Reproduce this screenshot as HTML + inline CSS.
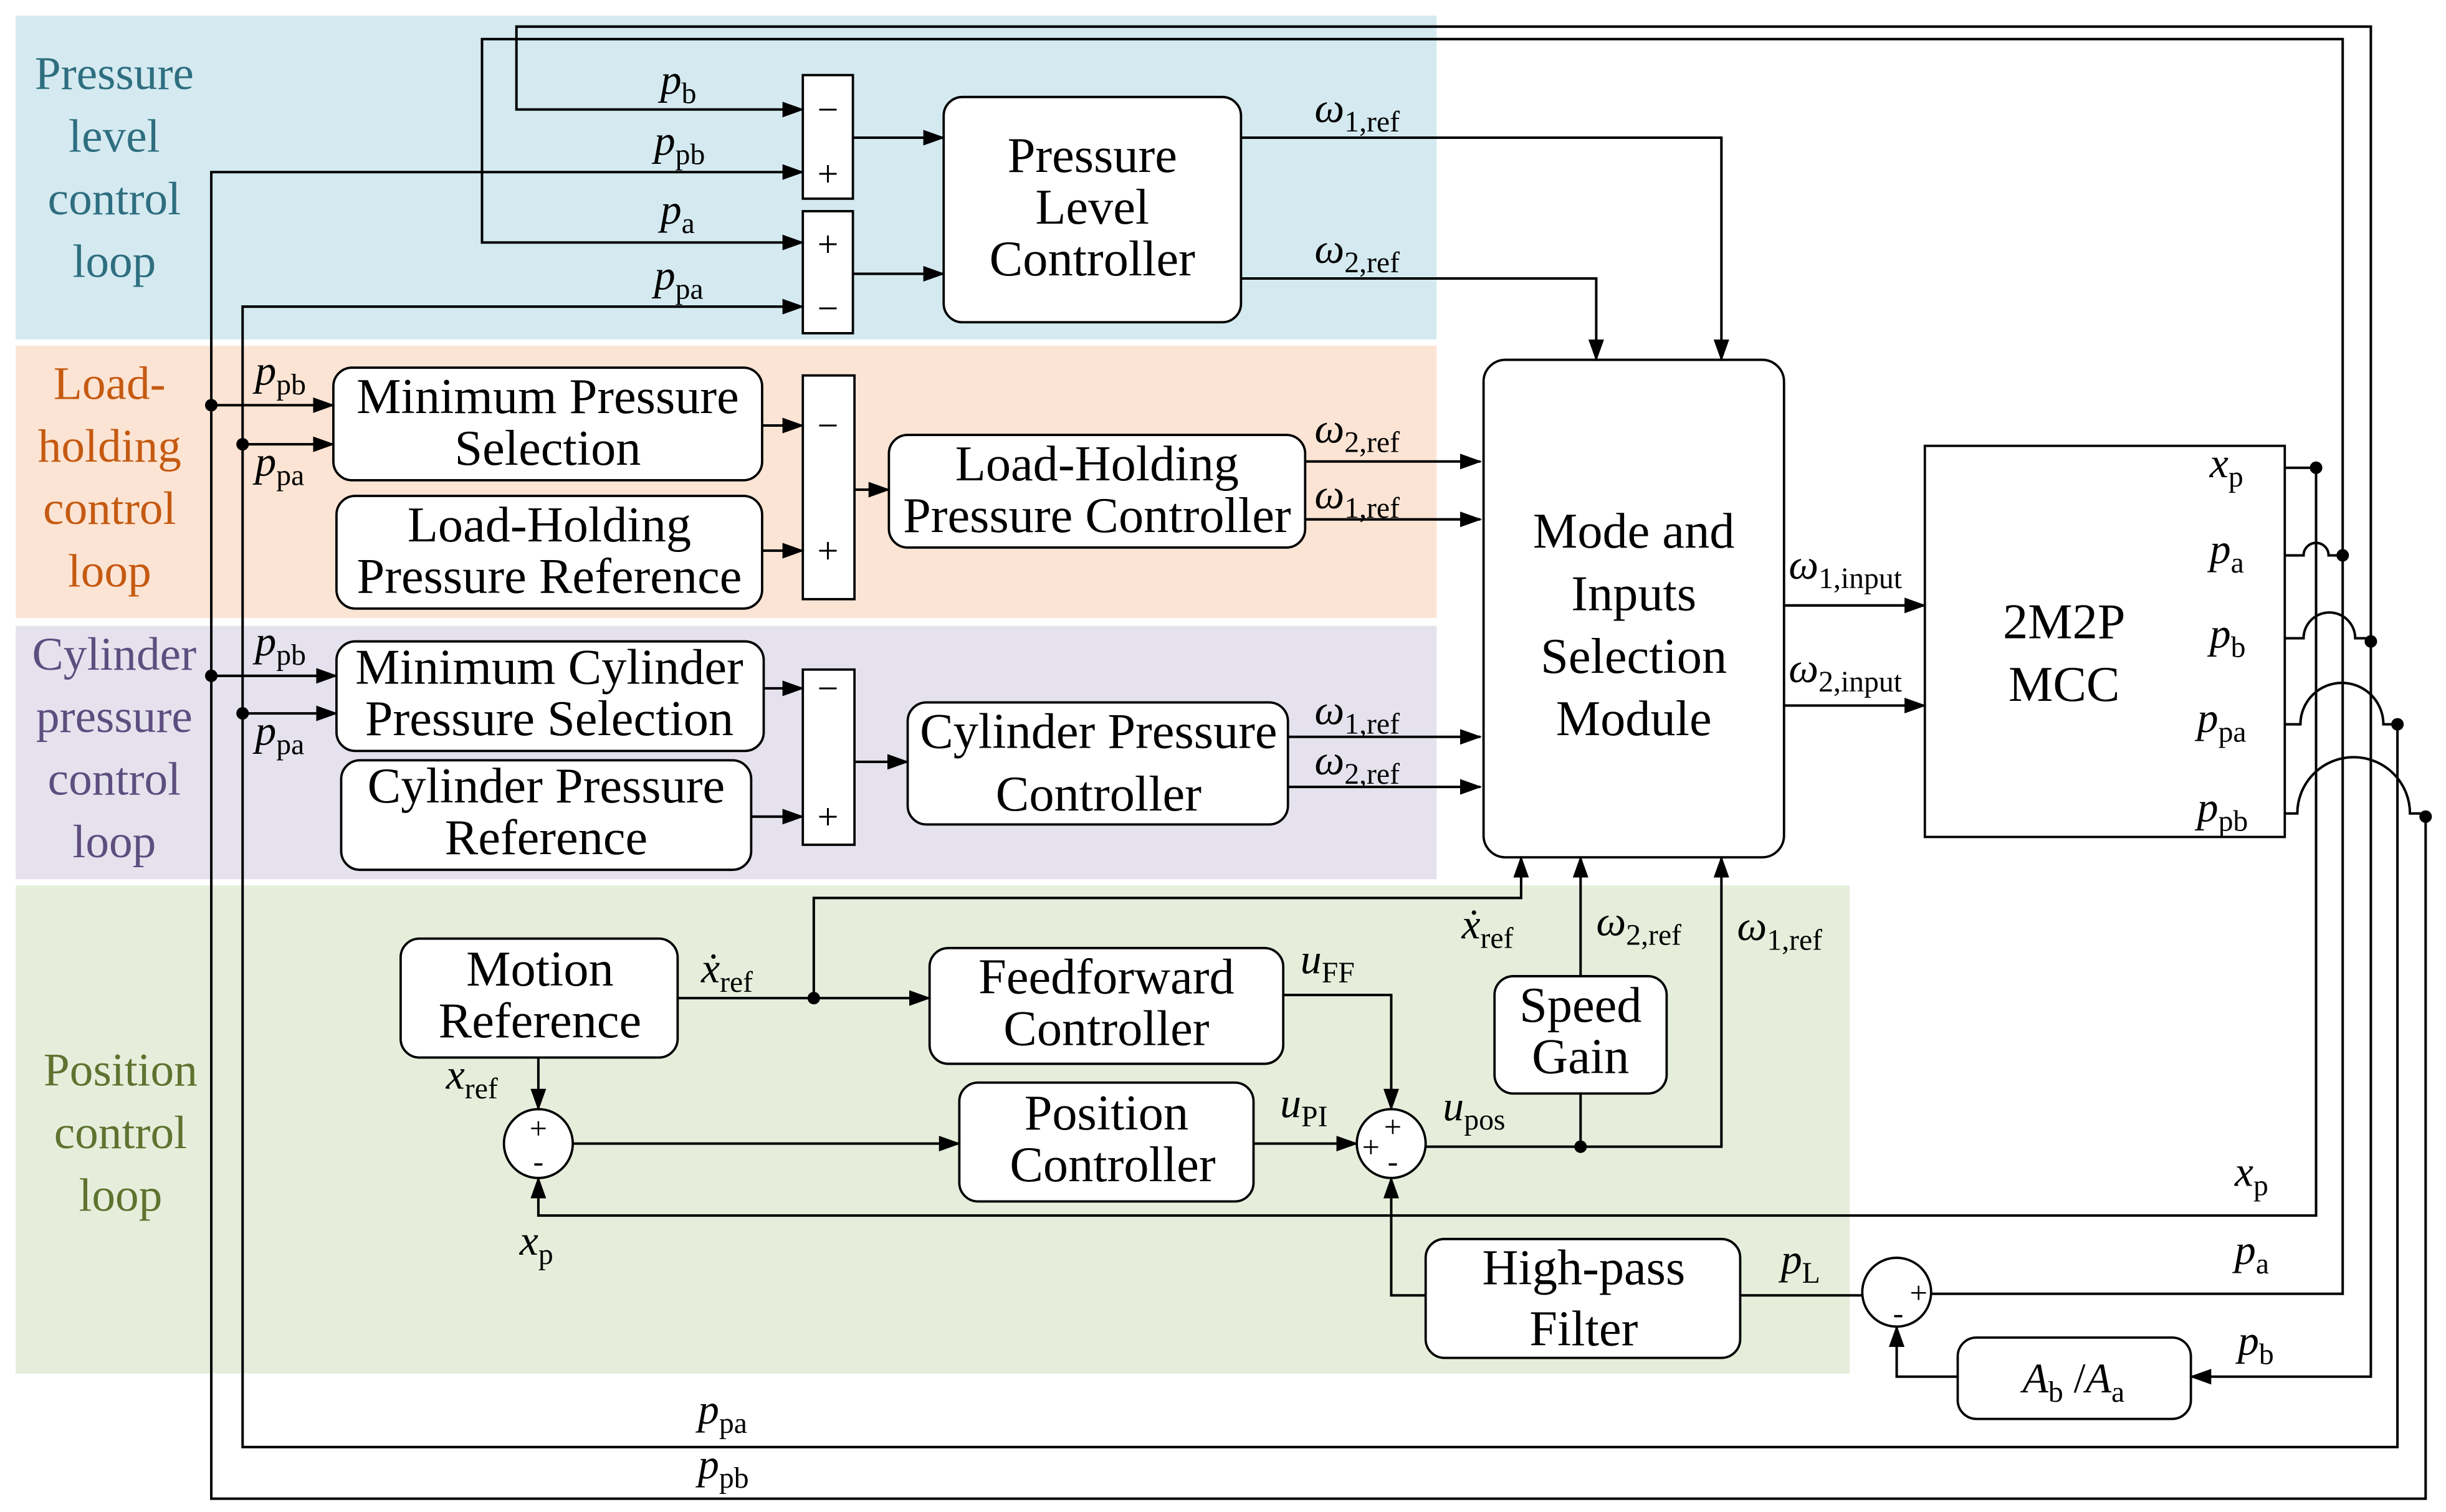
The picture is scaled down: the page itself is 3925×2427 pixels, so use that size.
<!DOCTYPE html>
<html><head><meta charset="utf-8"><style>
html,body{margin:0;padding:0;background:#fff}
svg{display:block}
text{font-family:"Liberation Serif",serif;}
.b{font-size:32px;text-anchor:middle;fill:#000}
.v{font-size:27px;font-style:italic}
.s{font-size:19px;font-style:normal}
.lb{font-size:30px;text-anchor:middle}
</style></head><body>
<svg width="3925" height="2427" viewBox="0 0 1563 966.5" xmlns="http://www.w3.org/2000/svg">
<defs>
<marker id="a" markerUnits="userSpaceOnUse" markerWidth="14" markerHeight="10" refX="13" refY="5" orient="auto"><path d="M0,0 L14,5 L0,10 z" fill="#000"/></marker>
</defs>
<rect x="10" y="10" width="908" height="207" fill="#d4eaf0"/>
<rect x="10" y="221" width="908" height="174" fill="#fce4d4"/>
<rect x="10" y="400" width="908" height="162" fill="#e5e2ee"/>
<rect x="10" y="566" width="1172" height="312" fill="#e6eedb"/>
<g class="lb" fill="#2e6e80"><text x="73" y="57">Pressure</text><text x="73" y="97">level</text><text x="73" y="137">control</text><text x="73" y="177">loop</text></g>
<g class="lb" fill="#c55a11"><text x="70" y="255">Load-</text><text x="70" y="295">holding</text><text x="70" y="335">control</text><text x="70" y="375">loop</text></g>
<g class="lb" fill="#5c4f7f"><text x="73" y="428">Cylinder</text><text x="73" y="468">pressure</text><text x="73" y="508">control</text><text x="73" y="548">loop</text></g>
<g class="lb" fill="#5f7330"><text x="77" y="694">Position</text><text x="77" y="734">control</text><text x="77" y="774">loop</text></g>

<g fill="#fff" stroke="#000" stroke-width="1.5">
<rect x="603" y="62" width="190" height="144" rx="12"/>
<rect x="513" y="48" width="32" height="79"/>
<rect x="513" y="135" width="32" height="78"/>
<rect x="213" y="235" width="274" height="72" rx="12"/>
<rect x="215" y="317" width="272" height="72" rx="12"/>
<rect x="513" y="240" width="33" height="143"/>
<rect x="568" y="278" width="266" height="72" rx="12"/>
<rect x="215" y="410" width="273" height="70" rx="12"/>
<rect x="218" y="486" width="262" height="70" rx="12"/>
<rect x="513" y="428" width="33" height="112"/>
<rect x="580" y="449" width="243" height="78" rx="12"/>
<rect x="948" y="230" width="192" height="318" rx="14"/>
<rect x="1230" y="285" width="230" height="250"/>
<rect x="256" y="600" width="177" height="76" rx="12"/>
<rect x="594" y="606" width="226" height="74" rx="12"/>
<rect x="955" y="624" width="110" height="75" rx="12"/>
<rect x="613" y="692" width="188" height="76" rx="12"/>
<rect x="911" y="792" width="201" height="76" rx="12"/>
<rect x="1251" y="855" width="149" height="52" rx="12"/>
<circle cx="344" cy="731" r="22"/>
<circle cx="889" cy="731" r="22"/>
<circle cx="1212" cy="826" r="22"/>
</g>

<g class="b">
<text x="698" y="110">Pressure</text><text x="698" y="143">Level</text><text x="698" y="176">Controller</text>
<text x="350" y="264">Minimum Pressure</text><text x="350" y="297">Selection</text>
<text x="351" y="346">Load-Holding</text><text x="351" y="379">Pressure Reference</text>
<text x="701" y="307">Load-Holding</text><text x="701" y="340">Pressure Controller</text>
<text x="351" y="437">Minimum Cylinder</text><text x="351" y="470">Pressure Selection</text>
<text x="349" y="513">Cylinder Pressure</text><text x="349" y="546">Reference</text>
<text x="702" y="478">Cylinder Pressure</text><text x="702" y="518">Controller</text>
<text x="1044" y="350">Mode and</text><text x="1044" y="390">Inputs</text><text x="1044" y="430">Selection</text><text x="1044" y="470">Module</text>
<text x="1319" y="408">2M2P</text><text x="1319" y="448">MCC</text>
<text x="345" y="630">Motion</text><text x="345" y="663">Reference</text>
<text x="707" y="635">Feedforward</text><text x="707" y="668">Controller</text>
<text x="1010" y="653">Speed</text><text x="1010" y="686">Gain</text>
<text x="707" y="722">Position</text><text x="711" y="755">Controller</text>
<text x="1012" y="821">High-pass</text><text x="1012" y="860">Filter</text>
</g>
<text x="1325" y="890" class="v" text-anchor="middle" font-size="28">A<tspan class="s" dy="6">b</tspan><tspan dy="-6" font-style="normal"> /</tspan>A<tspan class="s" dy="6">a</tspan></text>

<g font-size="24" text-anchor="middle" font-family="Liberation Serif">
<text x="529" y="78">−</text><text x="529" y="119">+</text>
<text x="529" y="164">+</text><text x="529" y="205">−</text>
<text x="529" y="280">−</text><text x="529" y="360">+</text>
<text x="529" y="448">−</text><text x="529" y="530">+</text>
<text x="344" y="728" font-size="20">+</text><text x="344" y="749" font-size="20">-</text>
<text x="890" y="727" font-size="20">+</text><text x="876" y="740" font-size="20">+</text><text x="890" y="749" font-size="20">-</text>
<text x="1226" y="833" font-size="20">+</text><text x="1213" y="846" font-size="20">-</text>
</g>

<g fill="none" stroke="#000" stroke-width="1.6">
<path d="M1515,408 V17 H330 V70 H513" marker-end="url(#a)"/>
<path d="M1497,355 V25 H308 V155 H513" marker-end="url(#a)"/>
<path d="M1532,463 V925 H155 V196 H513" marker-end="url(#a)"/>
<path d="M1550,520 V958 H135 V110 H513" marker-end="url(#a)"/>
<path d="M135,259 H213" marker-end="url(#a)"/>
<path d="M155,284 H213" marker-end="url(#a)"/>
<path d="M135,432 H215" marker-end="url(#a)"/>
<path d="M155,456 H215" marker-end="url(#a)"/>
<path d="M1460,299 H1480 V777 H344 V753" marker-end="url(#a)"/>
<path d="M1460,355 H1472 A8,8 0 0 1 1488,355 H1497"/>
<path d="M1497,355 V827 H1234"/>
<path d="M1460,408 H1472 A16.5,16.5 0 0 1 1505,408 H1515"/>
<path d="M1515,408 V880 H1400" marker-end="url(#a)"/>
<path d="M1460,463 H1470 A26.5,26.5 0 0 1 1523,463 H1532"/>
<path d="M1460,520 H1468 A36,36 0 0 1 1540,520 H1550"/>
<path d="M545,88 H603" marker-end="url(#a)"/>
<path d="M545,175 H603" marker-end="url(#a)"/>
<path d="M793,88 H1100 V230" marker-end="url(#a)"/>
<path d="M793,178 H1020 V230" marker-end="url(#a)"/>
<path d="M487,272 H513" marker-end="url(#a)"/>
<path d="M487,352 H513" marker-end="url(#a)"/>
<path d="M546,313 H568" marker-end="url(#a)"/>
<path d="M834,295 H946" marker-end="url(#a)"/>
<path d="M834,332 H946" marker-end="url(#a)"/>
<path d="M488,440 H513" marker-end="url(#a)"/>
<path d="M480,522 H513" marker-end="url(#a)"/>
<path d="M546,487 H580" marker-end="url(#a)"/>
<path d="M823,471 H946" marker-end="url(#a)"/>
<path d="M823,503 H946" marker-end="url(#a)"/>
<path d="M1140,387 H1230" marker-end="url(#a)"/>
<path d="M1140,451 H1230" marker-end="url(#a)"/>
<path d="M433,638 H594" marker-end="url(#a)"/>
<path d="M520,638 V574 H972 V548" marker-end="url(#a)"/>
<path d="M344,676 V709" marker-end="url(#a)"/>
<path d="M366,731 H613" marker-end="url(#a)"/>
<path d="M801,731 H867" marker-end="url(#a)"/>
<path d="M820,636 H889 V709" marker-end="url(#a)"/>
<path d="M911,733 H1100 V548" marker-end="url(#a)"/>
<path d="M1010,733 V699"/>
<path d="M1010,624 V548" marker-end="url(#a)"/>
<path d="M911,828 H889 V753" marker-end="url(#a)"/>
<path d="M1112,828 H1190"/>
<path d="M1251,880 H1212 V848" marker-end="url(#a)"/>
</g>
<g fill="#000">
<circle cx="135" cy="259" r="4"/><circle cx="155" cy="284" r="4"/>
<circle cx="135" cy="432" r="4"/><circle cx="155" cy="456" r="4"/>
<circle cx="1480" cy="299" r="4"/><circle cx="1497" cy="355" r="4"/>
<circle cx="1515" cy="410" r="4"/><circle cx="1532" cy="463" r="4"/>
<circle cx="1550" cy="522" r="4"/>
<circle cx="520" cy="638" r="4"/><circle cx="1010" cy="733" r="4"/>
</g>

<g class="v">
<text x="422" y="60">p<tspan class="s" dy="6">b</tspan></text>
<text x="418" y="99">p<tspan class="s" dy="6">pb</tspan></text>
<text x="422" y="143">p<tspan class="s" dy="6">a</tspan></text>
<text x="418" y="185">p<tspan class="s" dy="6">pa</tspan></text>
<text x="840" y="78">ω<tspan class="s" dy="6">1,ref</tspan></text>
<text x="840" y="168">ω<tspan class="s" dy="6">2,ref</tspan></text>
<text x="163" y="246">p<tspan class="s" dy="6">pb</tspan></text>
<text x="163" y="304">p<tspan class="s" dy="6">pa</tspan></text>
<text x="163" y="419">p<tspan class="s" dy="6">pb</tspan></text>
<text x="163" y="476">p<tspan class="s" dy="6">pa</tspan></text>
<text x="840" y="283">ω<tspan class="s" dy="6">2,ref</tspan></text>
<text x="840" y="325">ω<tspan class="s" dy="6">1,ref</tspan></text>
<text x="840" y="463">ω<tspan class="s" dy="6">1,ref</tspan></text>
<text x="840" y="495">ω<tspan class="s" dy="6">2,ref</tspan></text>
<text x="1143" y="370">ω<tspan class="s" dy="6">1,input</tspan></text>
<text x="1143" y="436">ω<tspan class="s" dy="6">2,input</tspan></text>
<text x="1412" y="305">x<tspan class="s" dy="6">p</tspan></text>
<text x="1412" y="360">p<tspan class="s" dy="6">a</tspan></text>
<text x="1412" y="414">p<tspan class="s" dy="6">b</tspan></text>
<text x="1404" y="468">p<tspan class="s" dy="6">pa</tspan></text>
<text x="1404" y="525">p<tspan class="s" dy="6">pb</tspan></text>
<text x="448" y="628">ẋ<tspan class="s" dy="6">ref</tspan></text>
<text x="285" y="696">x<tspan class="s" dy="6">ref</tspan></text>
<text x="831" y="622">u<tspan class="s" dy="6">FF</tspan></text>
<text x="818" y="714">u<tspan class="s" dy="6">PI</tspan></text>
<text x="922" y="716">u<tspan class="s" dy="6">pos</tspan></text>
<text x="332" y="802">x<tspan class="s" dy="6">p</tspan></text>
<text x="934" y="600">ẋ<tspan class="s" dy="6">ref</tspan></text>
<text x="1020" y="598">ω<tspan class="s" dy="6">2,ref</tspan></text>
<text x="1110" y="601">ω<tspan class="s" dy="6">1,ref</tspan></text>
<text x="1138" y="814">p<tspan class="s" dy="6">L</tspan></text>
<text x="1428" y="758">x<tspan class="s" dy="6">p</tspan></text>
<text x="1428" y="808">p<tspan class="s" dy="6">a</tspan></text>
<text x="1430" y="866">p<tspan class="s" dy="6">b</tspan></text>
<text x="446" y="910">p<tspan class="s" dy="6">pa</tspan></text>
<text x="446" y="945">p<tspan class="s" dy="6">pb</tspan></text>
</g>
</svg>
</body></html>
